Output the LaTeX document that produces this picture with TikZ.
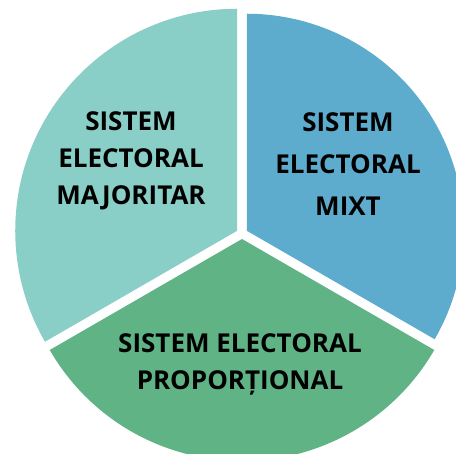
\documentclass[tikz,border=0pt]{standalone}
\usepackage{fontspec}
\setmainfont{Open Sans}
\usepackage{xcolor}
\usepackage{tikz}
\usetikzlibrary{calc}

\definecolor{majcol}{HTML}{8ACFC7}
\definecolor{mixtcol}{HTML}{5DACCE}
\definecolor{propcol}{HTML}{5FB385}

\tikzset{sector label/.style = {align=center, inner sep=0pt, text=black,
  font=\bfseries\fontsize{26}{37}\selectfont}}

\begin{document}
\begin{tikzpicture}[x=1pt,y=1pt]
        \useasboundingbox (0,0) rectangle (456,454);
        \coordinate (o) at (242,220.5);
        % the three slices, pulled a little apart
        \fill[majcol] ($(o)+(150:5.5)$) -- ++(90:222)
            arc[start angle=90, end angle=210, radius=222] -- cycle;
        \fill[mixtcol] ($(o)+(30:5.5)$) -- ++(-30:217)
            arc[start angle=-30, end angle=90, radius=217] -- cycle;
        \fill[propcol] ($(o)+(270:5.5)$) -- ++(210:222)
            arc[start angle=210, end angle=330, radius=222] -- cycle;
        \path (131,293) node[sector label] (maj) {SISTEM\\ELECTORAL\\MAJORITAR}
        (348,290) node[sector label, font=\bfseries\fontsize{26}{42}\selectfont] (mixt) {SISTEM\\ELECTORAL\\MIXT}
        (240,90) node[sector label] (prop) {SISTEM ELECTORAL\\PROPORȚIONAL};
        \end{tikzpicture}
\end{document}
